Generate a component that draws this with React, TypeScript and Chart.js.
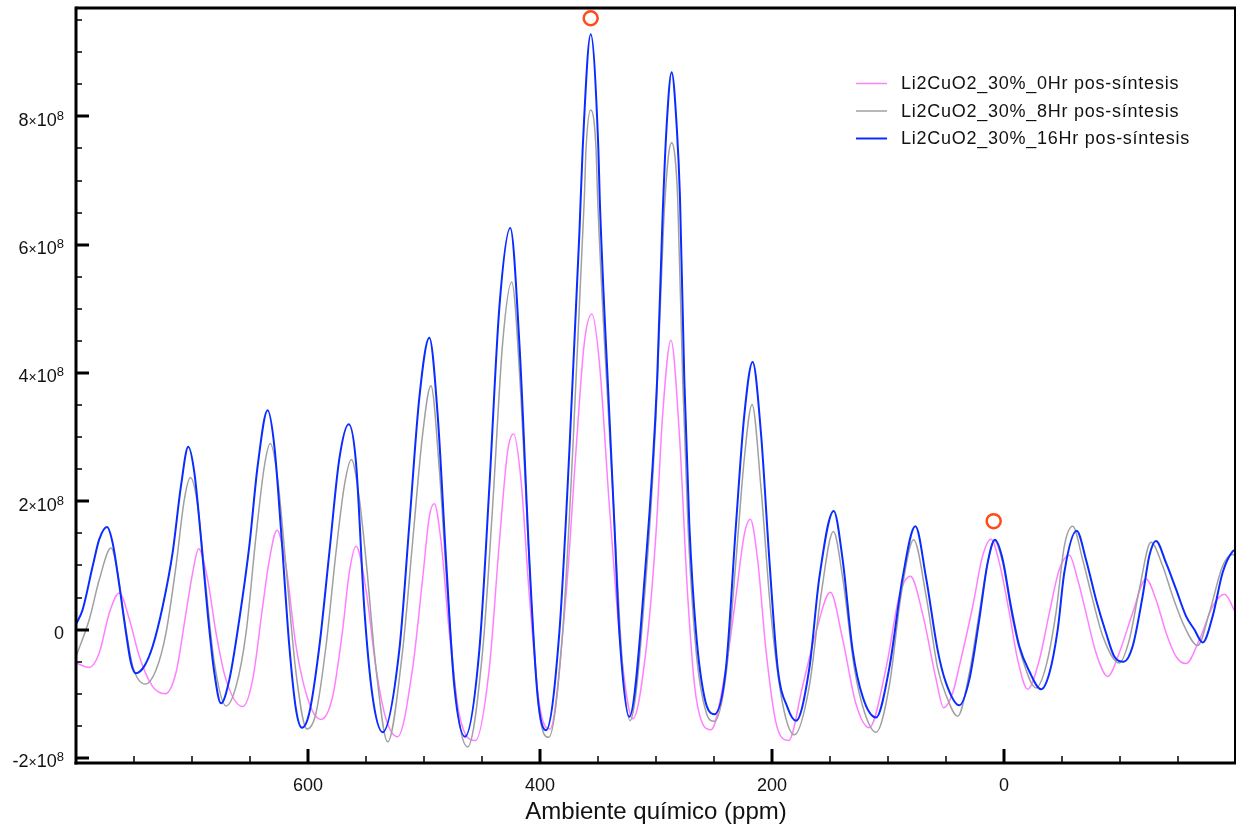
import React, { useEffect, useRef } from "react";
import { Chart, registerables } from "chart.js";

Chart.register(...registerables);

const FONT = "'Liberation Sans', Arial, Helvetica, sans-serif";

// Series: chemical shift (ppm) and intensity (units of 1e8)
const seriesLabels = [
  "Li2CuO2_30%_0Hr pos-síntesis",
  "Li2CuO2_30%_8Hr pos-síntesis",
  "Li2CuO2_30%_16Hr pos-síntesis",
];
const seriesColors = ["#ff80ff", "#a0a0a0", "#0a2cff"];

const pinkPpm = [800, 788.5, 779.9, 771.3, 762.6, 754.0, 745.4, 733.9, 723.0, 713.8, 705.2, 699.4, 694.3, 686.5, 679.3, 670.7, 656.3, 647.7, 639.1, 633.3, 626.7, 619.0, 610.3, 598.9, 588.8, 578.7, 570.1, 564.4, 558.6, 550.0, 541.4, 532.8, 522.7, 509.8, 501.1, 495.4, 491.1, 485.3, 478.2, 469.5, 455.7, 443.7, 435.0, 427.9, 422.7, 416.4, 409.2, 400.6, 391.4, 377.6, 369.0, 361.8, 355.2, 348.9, 340.2, 330.2, 320.0, 308.6, 300.0, 294.3, 287.1, 279.9, 272.7, 265.5, 252.6, 239.7, 231.0, 223.9, 218.7, 212.4, 205.2, 196.6, 185.6, 173.6, 162.1, 149.7, 139.1, 127.6, 116.1, 101.7, 90.2, 80.7, 70.1, 58.6, 52.0, 44.3, 38.5, 27.0, 18.4, 11.2, 4.0, -4.6, -11.8, -20.4, -30.5, -39.1, -47.7, -56.3, -63.5, -70.7, -79.3, -89.4, -99.4, -110.9, -122.4, -131.0, -139.7, -148.3, -156.9, -168.4, -179.9, -190.0, -200.9];
const pinkVal = [-0.52, -0.59, -0.36, 0.26, 0.57, 0.16, -0.42, -0.89, -1.00, -0.67, 0.26, 0.89, 1.26, 0.78, -0.05, -0.78, -1.20, -0.78, 0.36, 1.09, 1.55, 0.99, -0.26, -1.15, -1.40, -1.04, 0.00, 0.89, 1.30, 0.62, -0.60, -1.39, -1.67, -0.60, 0.81, 1.76, 1.96, 1.37, -0.04, -1.33, -1.73, -0.60, 1.37, 2.78, 3.05, 2.33, 0.53, -1.16, -1.55, 0.53, 2.78, 4.47, 4.92, 4.18, 1.93, -0.32, -1.39, -0.32, 1.50, 3.34, 4.51, 3.06, 0.53, -1.05, -1.56, -0.60, 0.53, 1.48, 1.72, 1.09, -0.32, -1.45, -1.73, -0.88, -0.04, 0.58, -0.15, -1.16, -1.53, -0.60, 0.53, 0.83, 0.24, -0.77, -1.22, -0.99, -0.57, 0.36, 1.15, 1.41, 1.04, 0.26, -0.47, -0.93, -0.47, 0.26, 0.94, 1.16, 0.78, 0.26, -0.36, -0.73, -0.36, 0.26, 0.79, 0.47, -0.05, -0.42, -0.53, -0.16, 0.36, 0.55, 0.21];

const grayPpm = [800, 788.5, 779.9, 769.8, 764.1, 758.3, 751.1, 740.2, 731.0, 722.4, 713.8, 706.6, 701.4, 695.1, 688.1, 680.7, 670.7, 662.1, 653.4, 644.8, 637.6, 632.5, 626.1, 619.0, 610.3, 600.9, 593.1, 584.5, 575.9, 568.7, 562.6, 555.7, 550.0, 541.4, 531.3, 518.4, 509.8, 501.1, 494.0, 486.8, 479.6, 471.0, 462.4, 449.4, 440.8, 432.2, 424.4, 416.4, 407.8, 400.6, 392.5, 380.5, 371.8, 361.8, 360.3, 356.3, 351.7, 350.3, 337.4, 328.7, 322.4, 308.6, 300.0, 293.5, 289.5, 286.5, 283.5, 281.3, 277.0, 272.5, 265.5, 256.9, 249.7, 239.7, 231.0, 223.9, 217.2, 209.5, 200.9, 190.8, 180.7, 167.8, 157.8, 147.1, 139.1, 129.0, 120.4, 110.3, 98.9, 88.8, 77.9, 67.2, 57.2, 50.0, 39.9, 29.9, 21.3, 14.1, 8.3, 1.1, -7.5, -16.1, -27.6, -36.2, -44.8, -52.0, -59.2, -67.8, -76.4, -85.1, -99.4, -108.0, -116.7, -126.7, -136.8, -145.4, -155.5, -167.0, -177.0, -188.5, -197.1, -200.9];
const grayVal = [-0.42, 0.16, 0.78, 1.27, 0.89, 0.16, -0.57, -0.85, -0.63, -0.05, 0.99, 2.03, 2.37, 1.93, 0.68, -0.52, -1.19, -0.89, -0.05, 1.46, 2.55, 2.90, 2.34, 0.99, -0.68, -1.55, -1.30, -0.26, 1.20, 2.24, 2.65, 2.03, 1.09, -0.60, -1.75, -0.32, 1.37, 3.06, 3.80, 2.50, 0.53, -1.28, -1.83, -0.32, 1.93, 4.47, 5.42, 3.62, 0.53, -1.28, -1.68, -0.04, 2.78, 6.72, 7.50, 8.10, 7.50, 6.72, 2.21, -0.60, -1.42, 0.81, 3.34, 6.30, 7.35, 7.59, 7.35, 6.72, 3.90, 1.65, -0.32, -1.28, -1.43, -0.71, 1.09, 2.66, 3.51, 2.21, 0.24, -1.16, -1.64, -0.88, 0.53, 1.53, 0.81, -0.60, -1.28, -1.60, -0.88, 0.53, 1.40, 0.53, -0.60, -1.02, -1.35, -0.68, 0.26, 1.04, 1.38, 1.04, 0.16, -0.47, -0.91, -0.57, 0.26, 1.30, 1.61, 1.09, 0.47, -0.10, -0.52, -0.16, 0.63, 1.36, 0.99, 0.52, 0.05, -0.25, 0.26, 0.99, 1.17, 1.16];

const bluePpm = [800, 794.3, 785.6, 779.9, 773.3, 768.4, 762.6, 756.9, 752.6, 748.3, 741.1, 733.9, 725.3, 716.7, 709.5, 703.2, 698.0, 692.2, 686.5, 680.7, 675.0, 667.8, 659.2, 650.6, 643.4, 634.8, 629.0, 623.3, 616.1, 610.3, 605.2, 598.9, 590.2, 581.6, 573.0, 564.9, 558.6, 551.4, 544.3, 535.6, 521.3, 512.6, 504.0, 495.4, 488.2, 481.0, 473.9, 464.7, 452.3, 443.7, 435.0, 425.6, 417.8, 409.2, 402.0, 394.8, 383.3, 374.7, 366.0, 363.2, 356.3, 349.7, 348.5, 340.2, 335.9, 331.6, 323.0, 308.6, 299.0, 294.4, 291.0, 286.5, 282.0, 279.3, 275.6, 271.3, 265.5, 258.3, 249.7, 239.7, 231.0, 223.9, 216.7, 209.5, 202.3, 195.1, 186.5, 179.3, 167.8, 159.2, 146.8, 139.1, 130.5, 121.8, 110.3, 98.9, 87.4, 76.4, 67.2, 57.2, 50.0, 38.5, 29.9, 21.3, 14.1, 7.8, 1.1, -6.0, -13.2, -21.8, -31.9, -39.1, -46.3, -52.0, -62.6, -70.7, -79.3, -87.9, -95.1, -103.2, -110.9, -119.5, -125.3, -131.0, -139.7, -148.3, -156.9, -164.1, -171.3, -179.9, -188.5, -197.1, -200.9];
const blueVal = [0.08, 0.31, 0.99, 1.41, 1.60, 1.35, 0.68, -0.05, -0.52, -0.68, -0.57, -0.26, 0.36, 1.20, 2.24, 2.85, 2.45, 1.41, 0.26, -0.68, -1.15, -0.78, 0.16, 1.30, 2.55, 3.42, 2.86, 1.56, -0.26, -1.25, -1.53, -1.30, -0.26, 1.20, 2.66, 3.20, 2.60, 0.31, -1.05, -1.60, -0.32, 1.65, 3.62, 4.55, 3.34, 1.09, -0.88, -1.67, -0.32, 2.21, 5.03, 6.26, 4.47, 1.09, -1.05, -1.57, -0.04, 2.78, 6.20, 7.50, 9.28, 7.50, 6.72, 3.34, 1.65, -0.04, -1.36, 1.09, 3.90, 6.40, 7.80, 8.69, 7.80, 6.72, 3.90, 1.65, -0.04, -1.05, -1.32, -0.60, 1.65, 3.34, 4.17, 3.06, 1.09, -0.60, -1.22, -1.42, -0.60, 0.81, 1.85, 1.09, -0.32, -1.05, -1.37, -0.60, 0.81, 1.61, 0.81, -0.32, -0.83, -1.18, -0.78, 0.16, 1.04, 1.40, 1.09, 0.36, -0.26, -0.65, -0.93, -0.68, 0.00, 0.89, 1.54, 1.09, 0.47, -0.05, -0.42, -0.50, -0.26, 0.52, 1.15, 1.38, 1.04, 0.63, 0.21, 0.00, -0.20, 0.21, 0.89, 1.22, 1.25];

// Open red circles marking peaks
const markerPpm = [356.3, 8.9];
const markerVal = [9.53, 1.69];

// Axes
const xMin = -200;
const xMax = 800;
const yMin = -2.08;
const yMax = 9.69;
const xMajorTicks = [600, 400, 200, 0];
const xMinorTicks = [750, 700, 650, 550, 500, 450, 350, 300, 250, 150, 100, 50, -50, -100, -150];
const yMajorTicks = [-2, 0, 2, 4, 6, 8];
const yMinorTicks = [-1.5, -1, -0.5, 0.5, 1, 1.5, 2.5, 3, 3.5, 4.5, 5, 5.5, 6.5, 7, 7.5, 8.5, 9, 9.5];
const yExponent = "8";
const xTitle = "Ambiente químico (ppm)";

const toPoints = (xs: number[], ys: number[]) => xs.map((x, i) => ({ x, y: ys[i] }));

const framePlugin = {
  id: "frameAndLabels",
  afterDatasetsDraw(chart: any) {
    const { ctx, chartArea: a, scales } = chart;
    const xs = scales.x;
    const ys = scales.y;
    ctx.save();
    ctx.strokeStyle = "#000";
    ctx.lineCap = "butt";
    const seg = (x1: number, y1: number, x2: number, y2: number) => {
      ctx.beginPath();
      ctx.moveTo(x1, y1);
      ctx.lineTo(x2, y2);
      ctx.stroke();
    };
    // x ticks (inward)
    ctx.lineWidth = 3;
    xMajorTicks.forEach((v) => {
      const p = Math.round(xs.getPixelForValue(v));
      seg(p, a.bottom, p, a.bottom - 14);
    });
    ctx.lineWidth = 1.5;
    xMinorTicks.forEach((v) => {
      const p = Math.round(xs.getPixelForValue(v));
      seg(p, a.bottom, p, a.bottom - 7);
    });
    // y ticks (inward)
    ctx.lineWidth = 3;
    yMajorTicks.forEach((v) => {
      const p = Math.round(ys.getPixelForValue(v));
      seg(a.left, p, a.left + 13, p);
    });
    ctx.lineWidth = 1.5;
    yMinorTicks.forEach((v) => {
      const p = Math.round(ys.getPixelForValue(v));
      seg(a.left, p, a.left + 6, p);
    });
    // frame
    ctx.lineWidth = 3;
    seg(a.left, a.top - 1.5, a.left, a.bottom + 1.5);
    seg(a.left - 1.5, a.bottom, a.right, a.bottom);
    seg(a.left, a.top, a.right, a.top);
    ctx.lineWidth = 2;
    seg(a.right - 1, a.top, a.right - 1, a.bottom);

    // y tick labels  "N×10^8"
    ctx.fillStyle = "#111";
    ctx.textBaseline = "alphabetic";
    ctx.textAlign = "left";
    const rightEdge = 64;
    yMajorTicks.forEach((v) => {
      const p = ys.getPixelForValue(v);
      const base = p + 9.5;
      if (v === 0) {
        ctx.font = `18px ${FONT}`;
        const w = ctx.measureText("0").width;
        ctx.fillText("0", rightEdge - w, base);
        return;
      }
      const mant = String(v);
      ctx.font = `13px ${FONT}`;
      const wSup = ctx.measureText(yExponent).width;
      ctx.font = `18px ${FONT}`;
      const wTen = ctx.measureText("10").width;
      const wMant = ctx.measureText(mant).width;
      ctx.font = `14px ${FONT}`;
      const wX = ctx.measureText("×").width;
      let x = rightEdge - wSup - wTen - wX - wMant;
      ctx.font = `18px ${FONT}`;
      ctx.fillText(mant, x, base);
      x += wMant;
      ctx.font = `14px ${FONT}`;
      ctx.fillText("×", x, base);
      x += wX;
      ctx.font = `18px ${FONT}`;
      ctx.fillText("10", x, base);
      x += wTen;
      ctx.font = `13px ${FONT}`;
      ctx.fillText(yExponent, x, base - 6);
    });

    // legend
    const legendY = [83.5, 111, 138.5];
    const widths = [1.5, 1.5, 2];
    ctx.font = `18px ${FONT}`;
    ctx.textBaseline = "middle";
    try {
      (ctx as any).letterSpacing = "0.75px";
    } catch (e) {}
    seriesLabels.forEach((label, i) => {
      ctx.strokeStyle = seriesColors[i];
      ctx.lineWidth = widths[i];
      seg(856, legendY[i], 887, legendY[i]);
      ctx.fillStyle = "#111";
      ctx.fillText(label, 901, legendY[i] + 1);
    });
    ctx.restore();
  },
};

export default function App() {
  const ref = useRef<HTMLCanvasElement | null>(null);
  useEffect(() => {
    document.body.style.margin = "0";
    const canvas = ref.current;
    if (!canvas) return;
    const chart = new Chart(canvas, {
      type: "line",
      data: {
        datasets: [
          {
            label: seriesLabels[0],
            data: toPoints(pinkPpm, pinkVal),
            borderColor: seriesColors[0],
            borderWidth: 1.5,
            pointRadius: 0,
            cubicInterpolationMode: "monotone",
            order: 3,
          },
          {
            label: seriesLabels[1],
            data: toPoints(grayPpm, grayVal),
            borderColor: seriesColors[1],
            borderWidth: 1.5,
            pointRadius: 0,
            cubicInterpolationMode: "monotone",
            order: 2,
          },
          {
            label: seriesLabels[2],
            data: toPoints(bluePpm, blueVal),
            borderColor: seriesColors[2],
            borderWidth: 2,
            pointRadius: 0,
            cubicInterpolationMode: "monotone",
            order: 1,
          },
          {
            label: "picos",
            data: toPoints(markerPpm, markerVal),
            showLine: false,
            pointRadius: 7,
            pointBorderWidth: 2.5,
            pointBorderColor: "#ff4a1a",
            pointBackgroundColor: "rgba(255,255,255,0)",
            borderColor: "#ff4a1a",
            clip: false,
            order: 0,
          },
        ] as any,
      },
      options: {
        responsive: false,
        animation: false,
        devicePixelRatio: 1,
        layout: { autoPadding: false, padding: { top: 8, right: 1, left: 0, bottom: 0 } },
        plugins: {
          legend: { display: false },
          tooltip: { enabled: false },
        },
        scales: {
          x: {
            type: "linear",
            reverse: true,
            min: xMin,
            max: xMax,
            afterBuildTicks: (s: any) => {
              s.ticks = xMajorTicks.map((v) => ({ value: v }));
            },
            afterFit: (s: any) => {
              s.height = 66;
              s.paddingLeft = 0;
              s.paddingRight = 0;
            },
            grid: { display: false, drawTicks: false },
            border: { display: false },
            ticks: {
              padding: 12,
              maxRotation: 0,
              color: "#111",
              font: { family: FONT, size: 18 },
              callback: (v: any) => String(v),
            },
            title: {
              display: true,
              text: xTitle,
              color: "#111",
              font: { family: FONT, size: 24 },
              padding: { top: 0, bottom: 2 },
            },
          },
          y: {
            type: "linear",
            min: yMin,
            max: yMax,
            afterBuildTicks: (s: any) => {
              s.ticks = yMajorTicks.map((v) => ({ value: v }));
            },
            afterFit: (s: any) => {
              s.width = 76;
              s.paddingTop = 0;
              s.paddingBottom = 0;
            },
            grid: { display: false, drawTicks: false },
            border: { display: false },
            ticks: { display: false },
          },
        },
      } as any,
      plugins: [framePlugin],
    });
    return () => chart.destroy();
  }, []);
  return (
    <div style={{ position: "absolute", left: 0, top: 0, width: 1237, height: 829, background: "#fff" }}>
      <canvas ref={ref} width={1237} height={829} style={{ display: "block" }} />
    </div>
  );
}
